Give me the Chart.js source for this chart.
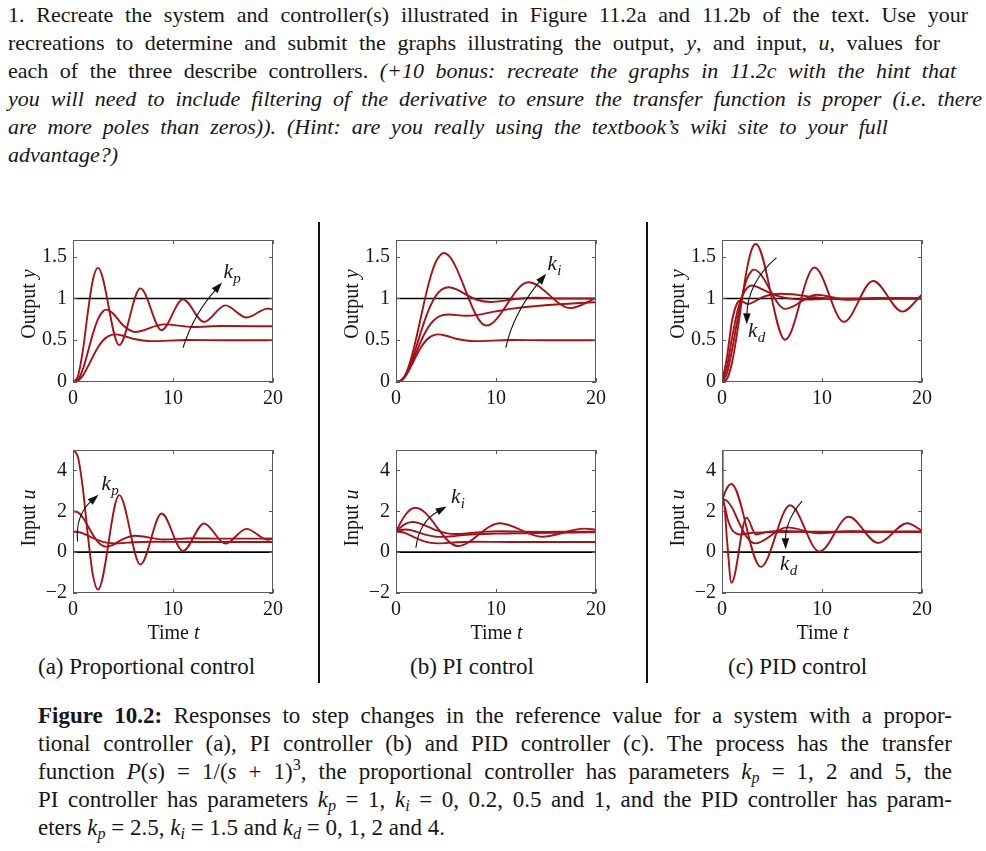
<!DOCTYPE html>
<html>
<head>
<meta charset="utf-8">
<script src="https://cdn.jsdelivr.net/npm/chart.js@4.4.0/dist/chart.umd.min.js"></script>
<style>
  html,body{margin:0;padding:0;background:#fff;}
  body{width:986px;height:851px;position:relative;overflow:hidden;font-family:"Liberation Serif","Times New Roman",serif;color:#161616;}
  .p{position:absolute;left:8px;height:28px;line-height:28px;font-size:22px;text-align:justify;text-align-last:justify;}
  .p.last{text-align:left;text-align-last:left;}
  .c{position:absolute;left:38px;height:28px;line-height:28px;font-size:23px;text-align:justify;text-align-last:justify;}
  .c.last{text-align:left;text-align-last:left;}
  .sub{position:absolute;top:653px;height:28px;line-height:28px;font-size:23px;white-space:nowrap;}
  .ax{position:absolute;width:140px;height:24px;line-height:24px;text-align:center;font-size:20px;white-space:nowrap;}
  .rot{transform:rotate(-90deg);transform-origin:50% 50%;}
  sub,sup{font-size:0.7em;line-height:0;}
  sub{vertical-align:-0.25em;}
  sup{vertical-align:0.55em;}
  .vline{position:absolute;top:222px;width:2px;height:461px;background:#111;}
</style>
</head>
<body>

<div class="p" style="top:1px;width:960px">1. Recreate the system and controller(s) illustrated in Figure 11.2a and 11.2b of the text. Use your</div>
<div class="p" style="top:29px;width:932px">recreations to determine and submit the graphs illustrating the output, <i>y</i>, and input, <i>u</i>, values for</div>
<div class="p" style="top:57px;width:948px">each of the three describe controllers. <i>(+10 bonus: recreate the graphs in 11.2c with the hint that</i></div>
<div class="p" style="top:85px;width:974px"><i>you will need to include filtering of the derivative to ensure the transfer function is proper (i.e. there</i></div>
<div class="p" style="top:113px;width:880px"><i>are more poles than zeros)). (Hint: are you really using the textbook’s wiki site to your full</i></div>
<div class="p last" style="top:141px"><i>advantage?)</i></div>

<div class="vline" style="left:318px"></div>
<div class="vline" style="left:646px"></div>

<div class="sub" style="left:38px">(a) Proportional control</div>
<div class="sub" style="left:410px">(b) PI control</div>
<div class="sub" style="left:728px">(c) PID control</div>

<div class="c" style="top:702px;width:914px"><b>Figure 10.2:</b> Responses to step changes in the reference value for a system with a propor-</div>
<div class="c" style="top:730px;width:914px">tional controller (a), PI controller (b) and PID controller (c). The process has the transfer</div>
<div class="c" style="top:758px;width:914px">function <i>P</i>(<i>s</i>) = 1/(<i>s</i> + 1)<sup>3</sup>, the proportional controller has parameters <i>k<sub>p</sub></i> = 1, 2 and 5, the</div>
<div class="c" style="top:786px;width:914px">PI controller has parameters <i>k<sub>p</sub></i> = 1, <i>k<sub>i</sub></i> = 0, 0.2, 0.5 and 1, and the PID controller has param-</div>
<div class="c last" style="top:814px">eters <i>k<sub>p</sub></i> = 2.5, <i>k<sub>i</sub></i> = 1.5 and <i>k<sub>d</sub></i> = 0, 1, 2 and 4.</div>

<script>
// ---------------- data ----------------
// common axes
const xTicks = [0, 10, 20];
const yTicksOut = [0, 0.5, 1, 1.5];
const yTicksIn = [-2, 0, 2, 4];

// (a) proportional control, kp = 1, 2, 5
const a_t1 = [0,0.5,1,1.5,2,2.5,3,3.5,4.2,5,6,7.83,11.46,15.1,20];
const a_y1 = [0,0.015,0.079,0.187,0.307,0.416,0.497,0.547,0.570,0.554,0.518,0.489,0.502,0.500,0.500];
const a_u1 = [1,0.985,0.921,0.813,0.693,0.584,0.503,0.453,0.430,0.446,0.482,0.511,0.498,0.500,0.500];
const a_t2 = [0,0.5,1,1.5,2,2.5,3,3.3,4,5,6.2,9.1,12.0,14.9,20];
const a_y2 = [0,0.026,0.158,0.365,0.582,0.753,0.847,0.866,0.821,0.679,0.598,0.690,0.659,0.670,0.667];
const a_u2 = [2,1.948,1.684,1.270,0.836,0.494,0.306,0.268,0.358,0.642,0.804,0.620,0.682,0.660,0.666];
const a_t5 = [0,0.5,1,1.5,2,2.5,4.62,6.74,8.86,10.99,13.11,15.23,17.35,19.47,20];
const a_y5 = [0,0.072,0.387,0.848,1.230,1.366,0.442,1.121,0.622,0.989,0.719,0.917,0.772,0.879,0.867];
const a_u5 = [5,4.640,3.065,0.760,-1.150,-1.830,2.790,-0.605,1.890,0.055,1.405,0.415,1.140,0.605,0.665];

// (b) PI control, kp = 1, ki = 0 (same as kp=1 above), 0.2, 0.5, 1
const b_t2  = [0,0.5,1,1.5,2,2.5,3,3.5,4,4.5,5.3,7,8,10,12,14,16,18,20];
const b_y2  = [0,0.016,0.084,0.204,0.348,0.490,0.611,0.702,0.761,0.794,0.808,0.794,0.801,0.846,0.885,0.909,0.927,0.943,0.955];
const b_tu2 = [0,0.5,1,1.5,2,3,4,4.6,6,7,8,10,12,14,16,18,20];
const b_u2  = [1,1.085,1.111,1.077,1.005,0.845,0.756,0.745,0.796,0.844,0.879,0.905,0.919,0.936,0.950,0.961,0.969];
const b_t5  = [0,0.5,1,1.5,2,2.5,3,3.5,4,4.5,5.25,6,7,8,9.5,11,12,14,17,20];
const b_y5  = [0,0.017,0.091,0.231,0.410,0.601,0.779,0.927,1.034,1.102,1.135,1.113,1.047,0.988,0.958,0.977,0.994,1.008,0.999,1.000];
const b_tu5 = [0,0.5,1,1.7,2,3,4,5,6,7,8,9,10.5,13,15,17,20];
const b_u5  = [1,1.234,1.396,1.473,1.459,1.291,1.075,0.930,0.885,0.910,0.961,1.003,1.025,1.002,0.994,0.999,1.000];
const b_t10  = [0,0.5,1,1.5,2,2.5,3,3.5,4,4.8,9.02,13.23,17.45,20];
const b_y10  = [0,0.017,0.103,0.274,0.512,0.782,1.049,1.278,1.442,1.544,0.676,1.194,0.885,1.005];
const b_tu10 = [0,0.5,1,1.5,1.96,6.18,10.39,14.61,18.83,20];
const b_u10  = [1,1.482,1.869,2.106,2.175,0.300,1.417,0.751,1.149,1.104];

// (c) PID control, kp = 2.5, ki = 1.5, kd = 0, 1, 2, 4
const c_t0  = [0,0.5,1,1.5,2,2.5,3,3.38,6.31,9.24,12.18,15.11,18.04,20];
const c_y0  = [0,0.038,0.231,0.576,0.988,1.358,1.596,1.652,0.506,1.371,0.721,1.209,0.843,1.047];
const c_tu0 = [0,0.4,0.94,3.87,6.81,9.74,12.67,15.6,18.53,20];
const c_u0  = [2.5,3.044,3.334,-0.722,2.293,0.028,1.730,0.451,1.412,1.051];
const c_t1  = [0,0.5,1,1.5,2,2.5,3,3.2,6.33,9.45,12.58,15.71,20];
const c_y1  = [0,0.105,0.380,0.715,1.020,1.235,1.335,1.345,0.875,1.045,0.985,1.006,1.000];
const c_tu1 = [0,0.03,0.27,1,1.5,2,2.5,3.3,6.5,9.65,12.78,16,20];
const c_u1  = [20,2.62,2.57,2.18,1.66,1.14,0.72,0.43,1.21,0.928,1.026,0.990,1.000];
const c_t2  = [0,0.5,1,1.5,2,2.5,2.95,3.5,4,5,6,7,8.5,11,14,20];
const c_y2  = [0,0.185,0.525,0.825,1.025,1.125,1.155,1.140,1.112,1.055,1.017,0.995,0.987,0.998,1.001,1.000];
const c_tu2 = [0,0.03,0.2,0.6,1.0,1.4,1.8,2.5,3.2,4.5,6,7.5,9.5,12,20];
const c_u2  = [30,2.7,2.3,1.55,1.1,0.92,0.86,0.91,0.955,0.968,0.98,0.995,1.005,1.0,1.0];
const c_t4  = [0,0.5,1,1.5,1.8,2.6,3.5,4,5,5.9,7,8,9,10,11,13,15,17,20];
const c_y4  = [0,0.30,0.73,0.94,0.972,0.934,0.98,1.014,1.048,1.057,1.05,1.035,1.019,1.006,0.996,0.99,0.994,0.999,1.0];
const c_tu4 = [0,0.03,0.15,0.5,0.95,2.45,3.4,4.5,6,9.2,13,20];
const c_u4  = [40,3.0,2.6,0.6,-1.5,1.69,0.86,0.99,1.04,0.985,1.0,1.0];

// ---------------- annotation arrows (data coordinates) ----------------
const arrows = {
  aTop: {s:[11.0,0.41], c:[12.05,0.81], e:[14.9,1.19], lab:[15.05,1.24], sub:'p'},
  aBot: {s:[0.46,0.52], c:[0.2,1.8],   e:[2.55,2.81], lab:[2.85,3.05], sub:'p'},
  bTop: {s:[10.98,0.41], c:[11.74,0.83], e:[15.02,1.295], lab:[15.15,1.345], sub:'i'},
  bBot: {s:[1.99,0.21], c:[2.3,1.49],  e:[5.07,2.24], lab:[5.5,2.43], sub:'i'},
  cTop: {s:[5.45,1.49], c:[2.51,1.185], e:[2.48,0.69], lab:[2.6,0.54], sub:'d'},
  cBot: {s:[8.01,2.50], c:[6.32,1.55], e:[6.36,0.14], lab:[5.8,-0.88], sub:'d'}
};

// ---------------- drawing ----------------
const RED = 'rgb(165,18,22)';
const FONT = '"Liberation Serif", "Times New Roman", serif';
Chart.defaults.font.family = FONT;

function pts(t, v){ return t.map((x, i) => ({x: x, y: v[i]})); }
function curve(t, v){
  return {data: pts(t, v), borderColor: RED, borderWidth: 1.9, pointRadius: 0,
          cubicInterpolationMode: 'monotone', fill: false};
}
function refLine(v){
  return {data: [{x:0, y:v}, {x:20, y:v}], borderColor: '#000', borderWidth: 1.6, pointRadius: 0, fill: false};
}
function fmt(v){ return v < 0 ? '\u2212' + Math.abs(v) : String(v); }

const framePlugin = {
  id: 'frame',
  afterDatasetsDraw(chart, args, opts){
    const ctx = chart.ctx, a = chart.chartArea, xs = chart.scales.x, ys = chart.scales.y;
    ctx.save();
    ctx.strokeStyle = '#5a5a5a';
    ctx.lineWidth = 1;
    ctx.strokeRect(Math.round(a.left) + 0.5, Math.round(a.top) + 0.5,
                   Math.round(a.right - a.left) - 1, Math.round(a.bottom - a.top) - 1);
    const tl = 4;
    ctx.beginPath();
    opts.xt.forEach(v => {
      const px = Math.round(xs.getPixelForValue(v)) + 0.5;
      ctx.moveTo(px, a.bottom); ctx.lineTo(px, a.bottom - tl);
      ctx.moveTo(px, a.top); ctx.lineTo(px, a.top + tl);
    });
    opts.yt.forEach(v => {
      const py = Math.round(ys.getPixelForValue(v)) + 0.5;
      ctx.moveTo(a.left, py); ctx.lineTo(a.left + tl, py);
      ctx.moveTo(a.right, py); ctx.lineTo(a.right - tl, py);
    });
    ctx.stroke();

    const ar = opts.arrow;
    if (ar){
      const P = p => [xs.getPixelForValue(p[0]), ys.getPixelForValue(p[1])];
      const S = P(ar.s), C = P(ar.c), E = P(ar.e);
      let dx = E[0] - C[0], dy = E[1] - C[1];
      const len = Math.hypot(dx, dy); dx /= len; dy /= len;
      const hl = 11, hw = 3.8;
      const B = [E[0] - dx * hl, E[1] - dy * hl];
      ctx.strokeStyle = '#111'; ctx.fillStyle = '#111'; ctx.lineWidth = 1.1;
      ctx.beginPath();
      ctx.moveTo(S[0], S[1]);
      ctx.quadraticCurveTo(C[0], C[1], B[0] + dx * 2, B[1] + dy * 2);
      ctx.stroke();
      ctx.beginPath();
      ctx.moveTo(E[0], E[1]);
      ctx.lineTo(B[0] - dy * hw, B[1] + dx * hw);
      ctx.lineTo(B[0] + dy * hw, B[1] - dx * hw);
      ctx.closePath();
      ctx.fill();
      const L = P(ar.lab);
      ctx.fillStyle = '#161616';
      ctx.textBaseline = 'alphabetic';
      ctx.textAlign = 'left';
      ctx.font = 'italic 21px ' + FONT;
      ctx.fillText('k', L[0], L[1]);
      const w = ctx.measureText('k').width;
      ctx.font = 'italic 15px ' + FONT;
      ctx.fillText(ar.sub, L[0] + w + 0.5, L[1] + 5);
    }
    ctx.restore();
  }
};

const panels = [
  {L:73,  T:230, H:152, ymin:0,  ymax:1.7, yt:yTicksOut, ref:1, arrow:arrows.aTop,
   sets:[[a_t1,a_y1],[a_t2,a_y2],[a_t5,a_y5]]},
  {L:73,  T:440, H:153, ymin:-2, ymax:5,   yt:yTicksIn,  ref:0, arrow:arrows.aBot,
   sets:[[a_t1,a_u1],[a_t2,a_u2],[a_t5,a_u5]]},
  {L:396, T:230, H:152, ymin:0,  ymax:1.7, yt:yTicksOut, ref:1, arrow:arrows.bTop,
   sets:[[a_t1,a_y1],[b_t2,b_y2],[b_t5,b_y5],[b_t10,b_y10]]},
  {L:396, T:440, H:153, ymin:-2, ymax:5,   yt:yTicksIn,  ref:0, arrow:arrows.bBot,
   sets:[[a_t1,a_u1],[b_tu2,b_u2],[b_tu5,b_u5],[b_tu10,b_u10]]},
  {L:722, T:230, H:152, ymin:0,  ymax:1.7, yt:yTicksOut, ref:1, arrow:arrows.cTop,
   sets:[[c_t0,c_y0],[c_t1,c_y1],[c_t2,c_y2],[c_t4,c_y4]]},
  {L:722, T:440, H:153, ymin:-2, ymax:5,   yt:yTicksIn,  ref:0, arrow:arrows.cBot,
   sets:[[c_tu0,c_u0],[c_tu1,c_u1],[c_tu2,c_u2],[c_tu4,c_u4]]}
];

const PW = 201, PADL = 50, PADR = 14, PADT = 8, XH = 30;

function addText(html, cls, left, top){
  const d = document.createElement('div');
  d.className = cls; d.innerHTML = html;
  d.style.left = left + 'px'; d.style.top = top + 'px';
  document.body.appendChild(d);
}

panels.forEach(p => {
  const W = PW + PADL + PADR, Hc = p.H + PADT + XH;
  const cv = document.createElement('canvas');
  cv.width = W; cv.height = Hc;
  cv.style.position = 'absolute';
  cv.style.left = (p.L - PADL) + 'px';
  cv.style.top = (p.T - PADT) + 'px';
  cv.style.width = W + 'px'; cv.style.height = Hc + 'px';
  document.body.appendChild(cv);

  const ds = p.sets.map(s => curve(s[0], s[1]));
  ds.push(refLine(p.ref));

  const tickFont = {size: 20, family: FONT};
  new Chart(cv, {
    type: 'line',
    data: {datasets: ds},
    options: {
      responsive: false, animation: false, events: [],
      layout: {padding: {left: 0, right: PADR, top: PADT, bottom: 0}},
      plugins: {legend: {display: false}, tooltip: {enabled: false},
                frame: {xt: xTicks, yt: p.yt, arrow: p.arrow}},
      scales: {
        x: {type: 'linear', min: 0, max: 20,
            grid: {display: false, drawTicks: false}, border: {display: false},
            afterFit: s => { s.height = XH; },
            afterBuildTicks: s => { s.ticks = xTicks.map(v => ({value: v})); },
            ticks: {autoSkip: false, maxRotation: 0, padding: 5, color: '#161616', font: tickFont,
                    callback: v => fmt(v)}},
        y: {type: 'linear', min: p.ymin, max: p.ymax,
            grid: {display: false, drawTicks: false}, border: {display: false},
            afterFit: s => { s.width = PADL; },
            afterBuildTicks: s => { s.ticks = p.yt.map(v => ({value: v})); },
            ticks: {autoSkip: false, padding: 6, color: '#161616', font: tickFont,
                    callback: v => fmt(v)}}
      }
    },
    plugins: [framePlugin]
  });

  // axis titles
  const isOut = p.ymax < 2;
  const cy = isOut ? p.T + 74 : p.T + 78;
  addText(isOut ? 'Output <i>y</i>' : 'Input <i>u</i>', 'ax rot', p.L - 45 - 70, cy - 12);
  if (!isOut) addText('Time <i>t</i>', 'ax', p.L + PW / 2 - 70, 620);
});
</script>
</body>
</html>
